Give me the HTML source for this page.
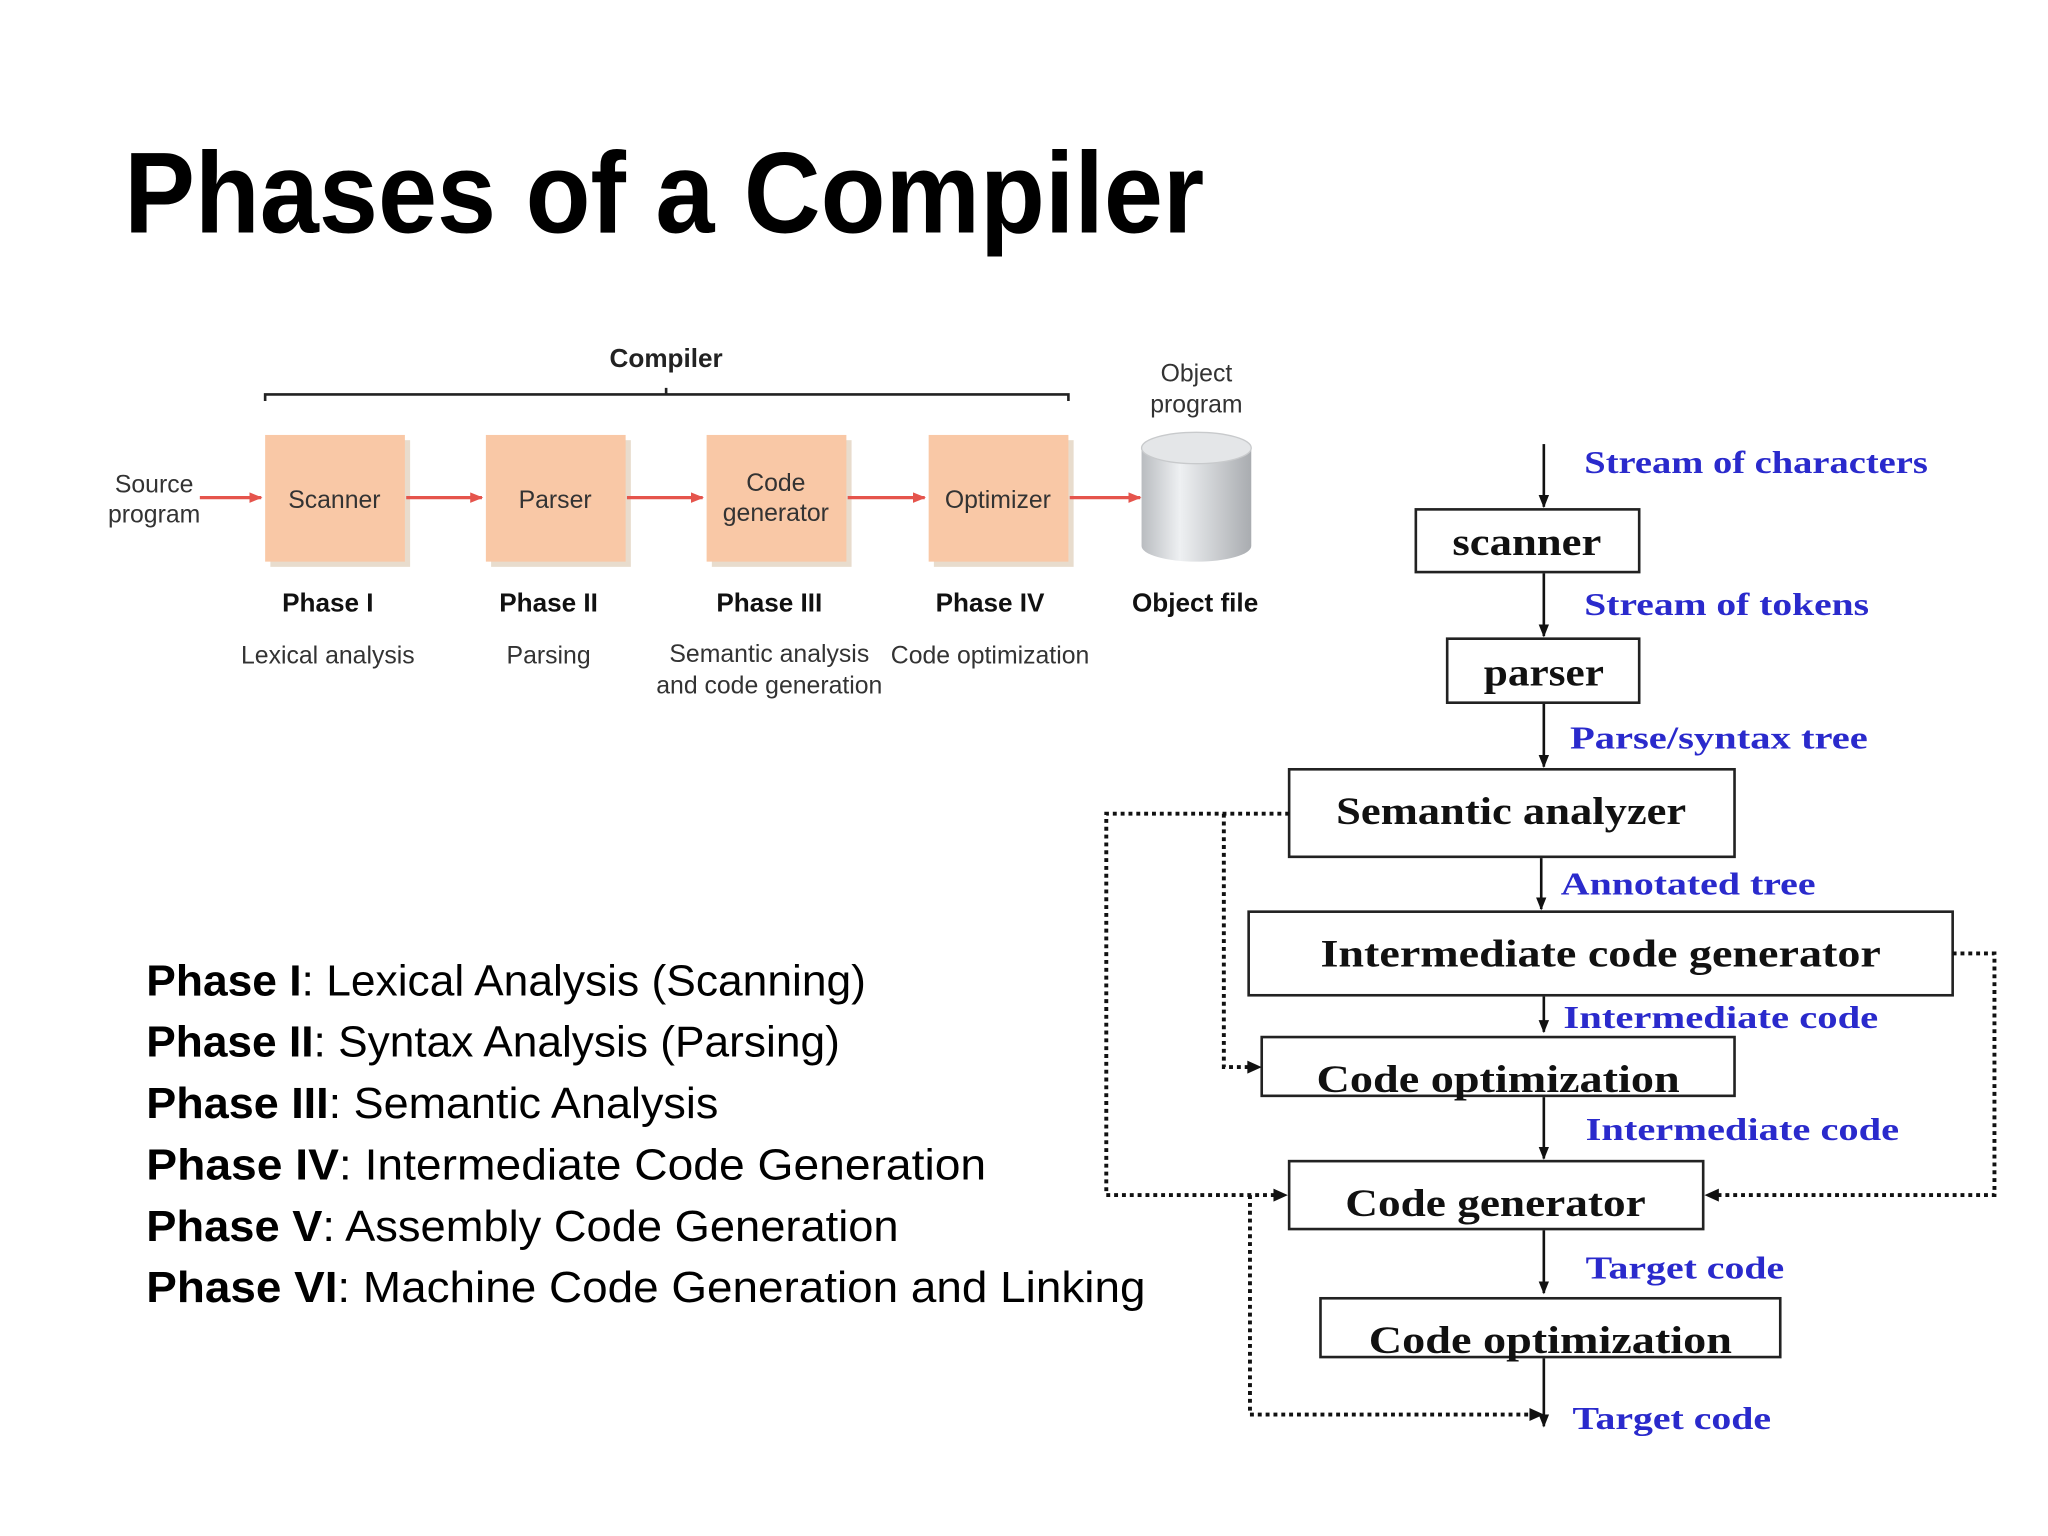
<!DOCTYPE html>
<html><head><meta charset="utf-8"><style>
html,body{margin:0;padding:0;background:#fff;}
svg{display:block;}
</style></head><body>
<svg width="2048" height="1536" viewBox="0 0 1568 1176" xmlns="http://www.w3.org/2000/svg">
<defs>
<marker id="ra" markerWidth="10" markerHeight="10" refX="9" refY="5" orient="auto" markerUnits="userSpaceOnUse"><path d="M0,1 L10,5 L0,9 Z" fill="#e5544c"/></marker>
<marker id="ba" markerWidth="10" markerHeight="10" refX="9" refY="5" orient="auto" markerUnits="userSpaceOnUse"><path d="M0,1 L10,5 L0,9 Z" fill="#111"/></marker>
<linearGradient id="cyl" x1="0" x2="1" y1="0" y2="0"><stop offset="0" stop-color="#b9bcc0"/><stop offset="0.35" stop-color="#eef0f2"/><stop offset="1" stop-color="#a9acb0"/></linearGradient>
</defs>
<rect width="1568" height="1176" fill="#fff"/>
<text x="95" y="178" font-family="Liberation Sans, sans-serif" font-weight="bold" font-size="88" textLength="827" lengthAdjust="spacingAndGlyphs" fill="#000">Phases of a Compiler</text>

<!-- left diagram -->
<g font-family="Liberation Sans, sans-serif" fill="#222">
<text x="510" y="281" font-size="20" font-weight="bold" text-anchor="middle">Compiler</text>
<path d="M203,307 V302 H818 V307 M510,302 V297" stroke="#222" stroke-width="2" fill="none"/>
<g fill="#e8dccd"><rect x="207" y="337" width="107" height="97"/><rect x="376" y="337" width="107" height="97"/><rect x="545" y="337" width="107" height="97"/><rect x="715" y="337" width="107" height="97"/></g>
<g fill="#f9c8a6"><rect x="203" y="333" width="107" height="97"/><rect x="372" y="333" width="107" height="97"/><rect x="541" y="333" width="107" height="97"/><rect x="711" y="333" width="107" height="97"/></g>
<g stroke="#e5544c" stroke-width="2.5" marker-end="url(#ra)"><line x1="153" y1="381" x2="200" y2="381"/><line x1="311" y1="381" x2="369" y2="381"/><line x1="480" y1="381" x2="538" y2="381"/><line x1="649" y1="381" x2="708" y2="381"/><line x1="819" y1="381" x2="873" y2="381"/></g>
<g font-size="19" text-anchor="middle" fill="#333">
<text x="118" y="377">Source</text><text x="118" y="400">program</text>
<text x="256" y="389">Scanner</text><text x="425" y="389">Parser</text>
<text x="594" y="376">Code</text><text x="594" y="399">generator</text>
<text x="764" y="389">Optimizer</text>
<text x="916" y="292">Object</text><text x="916" y="316">program</text>
<text x="251" y="508">Lexical analysis</text><text x="420" y="508">Parsing</text>
<text x="589" y="507">Semantic analysis</text><text x="589" y="531">and code generation</text>
<text x="758" y="508">Code optimization</text>
</g>
<g font-size="20" font-weight="bold" text-anchor="middle" fill="#111">
<text x="251" y="468">Phase I</text><text x="420" y="468">Phase II</text><text x="589" y="468">Phase III</text><text x="758" y="468">Phase IV</text><text x="915" y="468">Object file</text>
</g>
<path d="M874,343 V418 A42,12 0 0 0 958,418 V343 Z" fill="url(#cyl)"/>
<ellipse cx="916" cy="343" rx="42" ry="12" fill="#e4e6e8" stroke="#c8cacc"/>
</g>

<!-- bottom-left text -->
<g font-family="Liberation Sans, sans-serif" font-size="33" fill="#000">
<text x="112" y="762" textLength="551" lengthAdjust="spacingAndGlyphs"><tspan font-weight="bold">Phase I</tspan>: Lexical Analysis (Scanning)</text>
<text x="112" y="809" textLength="531" lengthAdjust="spacingAndGlyphs"><tspan font-weight="bold">Phase II</tspan>: Syntax Analysis (Parsing)</text>
<text x="112" y="856" textLength="438" lengthAdjust="spacingAndGlyphs"><tspan font-weight="bold">Phase III</tspan>: Semantic Analysis</text>
<text x="112" y="903" textLength="643" lengthAdjust="spacingAndGlyphs"><tspan font-weight="bold">Phase IV</tspan>: Intermediate Code Generation</text>
<text x="112" y="950" textLength="576" lengthAdjust="spacingAndGlyphs"><tspan font-weight="bold">Phase V</tspan>: Assembly Code Generation</text>
<text x="112" y="997" textLength="765" lengthAdjust="spacingAndGlyphs"><tspan font-weight="bold">Phase VI</tspan>: Machine Code Generation and Linking</text>
</g>

<!-- right flowchart -->
<g fill="#fff" stroke="#222" stroke-width="2">
<rect x="1084" y="390" width="171" height="48"/>
<rect x="1108" y="489" width="147" height="49"/>
<rect x="987" y="589" width="341" height="67"/>
<rect x="956" y="698" width="539" height="64"/>
<rect x="966" y="794" width="362" height="45"/>
<rect x="987" y="889" width="317" height="52"/>
<rect x="1011" y="994" width="352" height="45"/>
</g>
<g stroke="#111" stroke-width="2" marker-end="url(#ba)">
<line x1="1182" y1="340" x2="1182" y2="388"/>
<line x1="1182" y1="439" x2="1182" y2="487"/>
<line x1="1182" y1="539" x2="1182" y2="587"/>
<line x1="1180" y1="657" x2="1180" y2="696"/>
<line x1="1182" y1="763" x2="1182" y2="790"/>
<line x1="1182" y1="840" x2="1182" y2="887"/>
<line x1="1182" y1="942" x2="1182" y2="990"/>
<line x1="1182" y1="1040" x2="1182" y2="1092"/>
</g>
<g stroke="#111" stroke-width="3" stroke-dasharray="3,3" fill="none">
<path d="M987,623 H847 V915 H980"/>
<path d="M937,623 V817 H960"/>
<path d="M1495,730 H1527 V915 H1312"/>
<path d="M957,915 V1083 H1176"/>
</g>
<g fill="#111"><path d="M986,915 L975,910 L975,920Z"/><path d="M966,817 L955,812 L955,822Z"/><path d="M1305,915 L1316,910 L1316,920Z"/><path d="M1182,1083 L1171,1078 L1171,1088Z"/></g>
<g font-family="Liberation Serif, serif" font-weight="bold" fill="#2a2acc" font-size="24">
<text x="1213" y="362" textLength="263" lengthAdjust="spacingAndGlyphs">Stream of characters</text>
<text x="1213" y="471" textLength="218" lengthAdjust="spacingAndGlyphs">Stream of tokens</text>
<text x="1202" y="573" textLength="228" lengthAdjust="spacingAndGlyphs">Parse/syntax tree</text>
<text x="1195" y="685" textLength="195" lengthAdjust="spacingAndGlyphs">Annotated tree</text>
<text x="1197" y="787" textLength="241" lengthAdjust="spacingAndGlyphs">Intermediate code</text>
<text x="1214" y="873" textLength="240" lengthAdjust="spacingAndGlyphs">Intermediate code</text>
<text x="1214" y="979" textLength="152" lengthAdjust="spacingAndGlyphs">Target code</text>
<text x="1204" y="1094" textLength="152" lengthAdjust="spacingAndGlyphs">Target code</text>
</g>
<g font-family="Liberation Serif, serif" font-weight="bold" fill="#111" font-size="30">
<text x="1112" y="425" textLength="114" lengthAdjust="spacingAndGlyphs">scanner</text>
<text x="1136" y="525" textLength="92" lengthAdjust="spacingAndGlyphs">parser</text>
<text x="1023" y="631" textLength="268" lengthAdjust="spacingAndGlyphs">Semantic analyzer</text>
<text x="1011" y="740" textLength="429" lengthAdjust="spacingAndGlyphs">Intermediate code generator</text>
<text x="1008" y="836" textLength="278" lengthAdjust="spacingAndGlyphs">Code optimization</text>
<text x="1030" y="931" textLength="230" lengthAdjust="spacingAndGlyphs">Code generator</text>
<text x="1048" y="1036" textLength="278" lengthAdjust="spacingAndGlyphs">Code optimization</text>
</g>
</svg>
</body></html>
